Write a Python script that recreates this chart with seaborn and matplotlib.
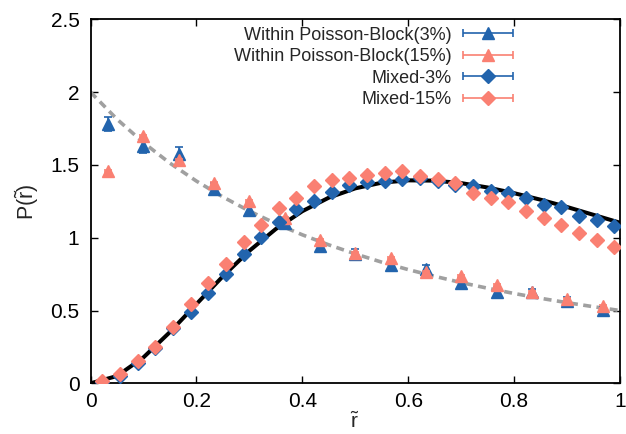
import numpy as np
import matplotlib
matplotlib.use("Agg")
import matplotlib.pyplot as plt
from matplotlib.container import ErrorbarContainer
from matplotlib.legend_handler import HandlerErrorbar
import seaborn as sns

# --- data ---
# bin centres of the "Within Poisson-Block" histograms (triangles)
r_block = [0.033, 0.100, 0.167, 0.233, 0.300, 0.367, 0.433, 0.500,
           0.567, 0.633, 0.700, 0.767, 0.833, 0.900, 0.967]
p_block_3 = [1.780, 1.632, 1.575, 1.336, 1.190, 1.099, 0.943, 0.890,
             0.810, 0.785, 0.690, 0.630, 0.625, 0.566, 0.502]
err_block_3 = [0.050, 0.050, 0.045, 0.040, 0.040, 0.035, 0.030, 0.030,
               0.030, 0.030, 0.030, 0.030, 0.025, 0.025, 0.020]
p_block_15 = [1.460, 1.700, 1.534, 1.378, 1.254, 1.133, 0.984, 0.897,
              0.860, 0.765, 0.737, 0.673, 0.627, 0.578, 0.528]
err_block_15 = [0.008] * 15

# bin centres of the "Mixed" histograms (diamonds)
r_mixed = [0.022, 0.056, 0.089, 0.122, 0.156, 0.189, 0.222, 0.256, 0.289, 0.322,
           0.356, 0.389, 0.422, 0.456, 0.489, 0.522, 0.556, 0.589, 0.622, 0.656,
           0.689, 0.722, 0.756, 0.789, 0.822, 0.856, 0.889, 0.922, 0.956, 0.989]
p_mixed_3 = [0.010, 0.050, 0.141, 0.240, 0.378, 0.488, 0.618, 0.751, 0.888, 1.007,
             1.110, 1.195, 1.252, 1.316, 1.362, 1.385, 1.392, 1.403, 1.408, 1.392,
             1.362, 1.357, 1.323, 1.305, 1.275, 1.225, 1.209, 1.151, 1.122, 1.080]
p_mixed_15 = [0.016, 0.062, 0.153, 0.251, 0.389, 0.545, 0.690, 0.817, 0.973, 1.087,
              1.202, 1.275, 1.355, 1.398, 1.408, 1.431, 1.446, 1.460, 1.424, 1.401,
              1.374, 1.309, 1.270, 1.247, 1.183, 1.137, 1.087, 1.034, 0.984, 0.934]
err_mixed = [0.006] * 30

# reference curves
r_curve = [0.00, 0.05, 0.10, 0.15, 0.20, 0.25, 0.30, 0.35, 0.40, 0.45, 0.50,
           0.55, 0.60, 0.65, 0.70, 0.75, 0.80, 0.85, 0.90, 0.95, 1.00]
p_poisson = [2.000, 1.814, 1.653, 1.512, 1.389, 1.280, 1.183, 1.097, 1.020, 0.951, 0.889,
             0.832, 0.781, 0.735, 0.692, 0.653, 0.617, 0.584, 0.554, 0.526, 0.500]
p_gue = [0.000, 0.050, 0.178, 0.352, 0.544, 0.735, 0.910, 1.060, 1.182, 1.275, 1.339,
         1.378, 1.394, 1.392, 1.375, 1.345, 1.306, 1.261, 1.211, 1.157, 1.103]

labels = ["Within Poisson-Block(3%)", "Within Poisson-Block(15%)", "Mixed-3%", "Mixed-15%"]
x_ticks = [0, 0.2, 0.4, 0.6, 0.8, 1]
x_tick_labels = ["0", "0.2", "0.4", "0.6", "0.8", "1"]
y_ticks = [0, 0.5, 1, 1.5, 2, 2.5]
y_tick_labels = ["0", "0.5", "1", "1.5", "2", "2.5"]

BLUE = "#2264ad"
SALMON = "#fa8072"

sns.set_theme(style="ticks")
plt.rcParams["font.family"] = ["Liberation Sans", "DejaVu Sans"]
plt.rcParams["mathtext.fontset"] = "custom"
plt.rcParams["mathtext.rm"] = "Liberation Sans"

fig, ax = plt.subplots(figsize=(6.26, 4.34), dpi=100)
fig.subplots_adjust(left=0.1446, right=0.9904, bottom=0.1168, top=0.9555)

# theory curves
sns.lineplot(x=r_curve, y=p_poisson, ax=ax, color="#a0a0a0", linewidth=2.6,
             linestyle=(0, (2.2, 1.5)), zorder=1)
sns.lineplot(x=r_curve, y=p_gue, ax=ax, color="black", linewidth=2.9, zorder=1)

series = [
    (r_block, p_block_3, err_block_3, BLUE, "^", 8.8),
    (r_block, p_block_15, err_block_15, SALMON, "^", 8.8),
    (r_mixed, p_mixed_3, err_mixed, BLUE, "D", 6.8),
    (r_mixed, p_mixed_15, err_mixed, SALMON, "D", 6.8),
]
order = [0, 2, 1, 3]
for k in order:
    x, y, e, c, m, ms = series[k]
    ax.errorbar(x, y, yerr=e, fmt=m, color=c, ms=ms, mec=c,
                elinewidth=1.2, capsize=3, capthick=1.2, zorder=3 + k)

# legend samples drawn like gnuplot: horizontal bar with caps and the symbol
handles = []
for (x, y, e, c, m, ms), lab in zip(series, labels):
    h = ax.errorbar([np.nan], [np.nan], xerr=[1], fmt=m, color=c, ms=ms, mec=c,
                    elinewidth=1.2, capsize=3, capthick=1.2, label=lab)
    handles.append(h)

ax.legend(handles=handles, labels=labels, loc="upper right",
          bbox_to_anchor=(0.815, 1.005), frameon=False, markerfirst=False,
          fontsize=13, handlelength=2.75, handletextpad=0.65, labelspacing=0.25,
          borderpad=0, numpoints=1,
          handler_map={ErrorbarContainer: HandlerErrorbar(xerr_size=1.375)})

ax.set_xlim(0, 1)
ax.set_ylim(0, 2.5)
ax.set_xticks(x_ticks)
ax.set_xticklabels(x_tick_labels)
ax.set_yticks(y_ticks)
ax.set_yticklabels(y_tick_labels)
ax.tick_params(direction="in", length=5, width=1, top=True, right=True,
               labelsize=15, colors="black")
ax.tick_params(axis="x", pad=6)
ax.tick_params(axis="y", pad=8)
for sp in ax.spines.values():
    sp.set_visible(True)
    sp.set_linewidth(1.3)
    sp.set_color("black")

ax.set_xlabel(r"$\mathregular{\tilde{r}}$", fontsize=15, labelpad=0)
ax.set_ylabel(r"P($\mathregular{\tilde{r}}$)", fontsize=15.5, labelpad=7)

fig.savefig("out.png", dpi=100)
